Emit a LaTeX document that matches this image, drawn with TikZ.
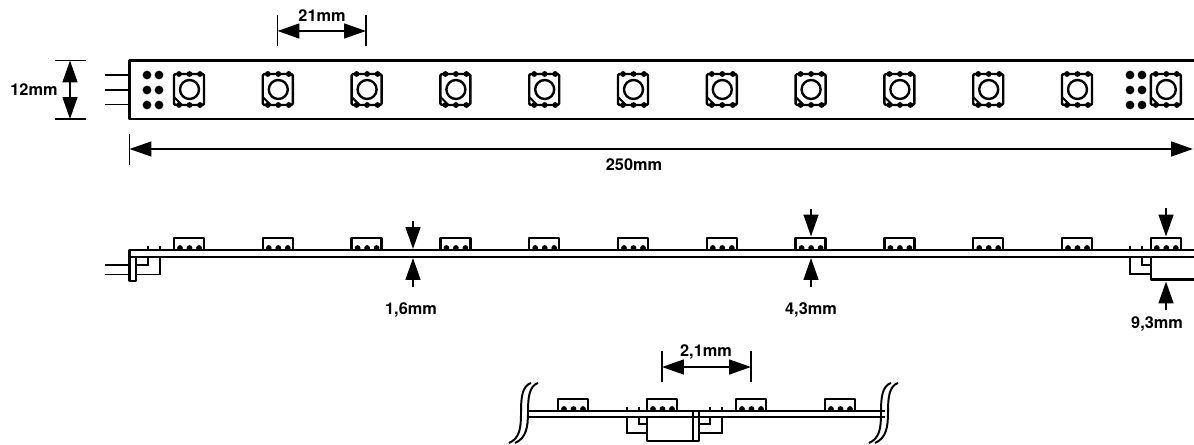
\documentclass[tikz,border=0pt]{standalone}
\usepackage{fontspec}
\setmainfont{TeX Gyre Heros}
\usetikzlibrary{arrows.meta}

\tikzset{
  part/.style={line width=1.7pt,line join=round},
  thin part/.style={line width=1.4pt},
  dim/.style={line width=1.4pt,{Triangle[length=15.5pt,width=10.5pt]}-{Triangle[length=15.5pt,width=10.5pt]}},
  dim to/.style={line width=1.4pt,-{Triangle[length=15.5pt,width=10.5pt]}},
  label/.style={font=\fontsize{11.6}{13}\selectfont\bfseries,inner sep=0pt},
  pad/.style={circle,fill=black,inner sep=0pt,minimum size=6.2pt}
}

% led seen from above, (#1) is the top left corner
\newcommand{\ledtop}[1]{
  \draw[part,rounded corners=1pt] (#1) rectangle +(30,31);
  \draw[part] (#1) ++(15.5,15.5) circle (9.5);
  \draw[thin part] (#1) ++(0,23) -- +(8,8);
  \foreach \k in {5,15.5,26} {
    \fill (#1) ++(\k,0) circle (2.9);
    \fill (#1) ++(\k,31) circle (2.9);
  }
}
% led seen from the side, (#1) is the left end on the board
\newcommand{\ledside}[1]{
  \draw[part] (#1) |- +(30,-12) -- +(30,0);
  \foreach \k in {6,15.5,25} {
    \fill (#1) ++(\k,-2) circle (2.9);
  }
}
% small tick above the board
\newcommand{\legtick}[2]{
  \draw[thin part] (#1,#2) -- +(0,5);
}

\begin{document}
\begin{tikzpicture}[x=0.025cm,y=-0.025cm]
  \useasboundingbox (0,0) rectangle (1194,445);

  % strip from above
  \coordinate (topnw) at (129.5,60.5);
  \coordinate (topsw) at (129.5,119);
  \coordinate (topne) at (1194,60.5);
  \coordinate (topse) at (1194,119);
  \draw[part] (topne) -- (topnw) -- (topsw) -- (topse);
  \foreach \y in {75,90,104.5} {
    \draw[thin part] (105,\y) -- (129.5,\y);
  }
  \foreach \y in {75,90,105} {
    \foreach \x in {147,159,1130,1142} {
      \node[pad] at (\x,\y) {};
    }
  }
  \foreach \n in {0,...,11} {
    \ledtop{{174+88.8*\n},74}
  }

  % 12mm
  \coordinate (h1) at (70,60.5);
  \coordinate (h2) at (70,119);
  \draw[thin part] (55,60.5) -- (86,60.5) (55,119) -- (86,119);
  \draw[dim] (h1) -- (h2);
  \node[label] (twelve) at (34,90) {12mm};

  % 21mm
  \coordinate (p1) at (277.5,31);
  \coordinate (p2) at (366,31);
  \draw[thin part] (277.5,15) -- (277.5,46) (366,15) -- (366,46);
  \draw[dim] (p1) -- (p2);
  \node[label] (pitch) at (322,16) {21mm};

  % 250mm
  \coordinate (l1) at (129.5,149);
  \coordinate (l2) at (1193,149);
  \draw[thin part] (129.5,134) -- (129.5,165);
  \draw[dim] (l1) -- (l2);
  \node[label] (length) at (634,165) {250mm};

  % strip from the side
  \draw[part] (1194,250) -- (129.5,250) -- (129.5,257) -- (1194,257);
  \draw[part] (129.5,257) rectangle (136,281);
  \draw[thin part] (105,265) -- (129.5,265) (105,274.5) -- (129.5,274.5);
  \draw[thin part] (136,265) -| (148,257) (136,274.5) -| (160,257);
  \legtick{148}{245.5}
  \legtick{160}{245.5}
  \foreach \n in {0,...,11} {
    \ledside{{174+88.8*\n},250}
  }
  \draw[part] (1194,279.5) -- (1151,279.5) -- (1151,257);
  \draw[thin part] (1151,265) -| (1142,257) (1151,274) -| (1130,257);
  \legtick{1142}{245.5}
  \legtick{1130}{245.5}

  % 1,6mm
  \coordinate (a1) at (413,221);
  \coordinate (a2) at (413,249);
  \coordinate (a3) at (413,287);
  \coordinate (a4) at (413,258);
  \draw[dim to] (a1) -- (a2);
  \draw[dim to] (a3) -- (a4);
  \node[label] (board) at (411,310) {1,6mm};

  % 4,3mm
  \coordinate (b1) at (811,209);
  \coordinate (b2) at (811,236.5);
  \coordinate (b3) at (811,287);
  \coordinate (b4) at (811,258);
  \draw[dim to] (b1) -- (b2);
  \draw[dim to] (b3) -- (b4);
  \node[label] (height) at (811,310) {4,3mm};

  % 9,3mm
  \coordinate (c1) at (1166,208);
  \coordinate (c2) at (1166,236.5);
  \coordinate (c3) at (1166,310);
  \coordinate (c4) at (1166,281.5);
  \draw[dim to] (c1) -- (c2);
  \draw[dim to] (c3) -- (c4);
  \node[label] (total) at (1157,324) {9,3mm};

  % joint
  \draw[part] (528,411) -- (885,411) (528,417) -- (885,417);
  \foreach \x in {558,647,736,825} {
    \ledside{\x,411}
  }
  \draw[part] (647,417) |- (693,441);
  \draw[part] (693,411) rectangle (699,441);
  \draw[thin part] (647,424) -| (639,417) (647,433) -| (627,417);
  \draw[thin part] (699,424) -| (710,417) (699,433) -| (722,417);
  \legtick{627}{406.5}
  \legtick{639}{406.5}
  \legtick{710}{406.5}
  \legtick{722}{406.5}

  % 2,1mm
  \coordinate (d1) at (662,367);
  \coordinate (d2) at (751,367);
  \draw[thin part] (662,351) -- (662,382) (751,351) -- (751,382);
  \draw[dim] (d1) -- (d2);
  \node[label] (gap) at (706,352) {2,1mm};

  % breaks
  \foreach \dx in {0,360} {
    \draw[thin part,xshift=\dx*0.025cm] (531,383) .. controls (522,386) and (521,398) .. (521,412) .. controls (521,428) and (520,438) .. (509,443);
    \draw[thin part,xshift=\dx*0.025cm] (538,383) .. controls (529,386) and (528,398) .. (528,412) .. controls (528,428) and (526,438) .. (515,443);
  }
\end{tikzpicture}
\end{document}
